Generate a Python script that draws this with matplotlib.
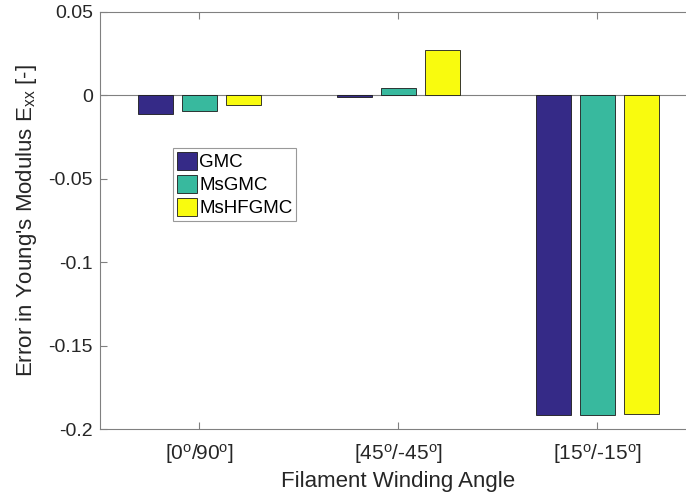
import numpy as np
import matplotlib
matplotlib.use('Agg')
import matplotlib.pyplot as plt

plt.rcParams['font.family'] = ['Liberation Sans', 'DejaVu Sans']
plt.rcParams['mathtext.fontset'] = 'custom'
plt.rcParams['mathtext.rm'] = 'Liberation Sans'
plt.rcParams['mathtext.it'] = 'Liberation Sans'

# data
angles = ['[0$^{\\mathrm{o}}$/90$^{\\mathrm{o}}$]',
          '[45$^{\\mathrm{o}}$/-45$^{\\mathrm{o}}$]',
          '[15$^{\\mathrm{o}}$/-15$^{\\mathrm{o}}$]']
methods = ['GMC', 'MsGMC', 'MsHFGMC']
err_gmc = [-0.0110, -0.0008, -0.1914]
err_msgmc = [-0.0096, 0.0045, -0.1914]
err_mshfgmc = [-0.0060, 0.0275, -0.1908]
yticks = [-0.2, -0.15, -0.1, -0.05, 0, 0.05]
ytick_labels = ['-0.2', '-0.15', '-0.1', '-0.05', '0', '0.05']

colors = ['#352a87', '#38b99e', '#f9fb0e']
txt = '#262626'
axc = '#808080'

fig = plt.figure(figsize=(6.86, 5.01), dpi=100)
ax = fig.add_axes([100/686, (501-429)/501, 597/686, 417/501])

x = np.arange(1, 4)
w = 0.178
off = 0.222
for k, (vals, lab) in enumerate(zip([err_gmc, err_msgmc, err_mshfgmc], methods)):
    ax.bar(x + (k - 1)*off, vals, width=w, color=colors[k], edgecolor='#1a1a1a',
           linewidth=0.6, label=lab, zorder=2)

ax.axhline(0, color=axc, lw=0.8, zorder=1)
ax.set_xlim(0.5, 3.5)
ax.set_ylim(-0.2, 0.05)
ax.set_xticks(x)
ax.set_xticklabels(angles)
ax.set_yticks(yticks)
ax.set_yticklabels(ytick_labels)
ax.tick_params(direction='in', length=5, width=0.8, color=axc, labelcolor=txt,
               labelsize=14, top=True, right=True)
ax.tick_params(axis='y', pad=5)
ax.tick_params(axis='x', pad=9)
for t in ax.get_xticklabels():
    t.set_fontsize(15)
for s in ax.spines.values():
    s.set_color(axc)
    s.set_linewidth(0.8)

ax.set_xlabel('Filament Winding Angle', fontsize=16, color=txt, labelpad=4)
ax.set_ylabel("Error in Young's Modulus E$_{\\mathrm{xx}}$ [-]", fontsize=16, color=txt, labelpad=7)

leg = ax.legend(loc='upper left', bbox_to_anchor=(0.122, 0.674), fontsize=13.5,
                frameon=True, fancybox=False, borderpad=0.2, labelspacing=0.2,
                handlelength=1.1, handleheight=1.1, handletextpad=0.1, borderaxespad=0)
leg.get_frame().set_edgecolor(axc)
leg.get_frame().set_linewidth(0.8)
for t in leg.get_texts():
    t.set_color('black')

fig.savefig('out.png', dpi=100)
